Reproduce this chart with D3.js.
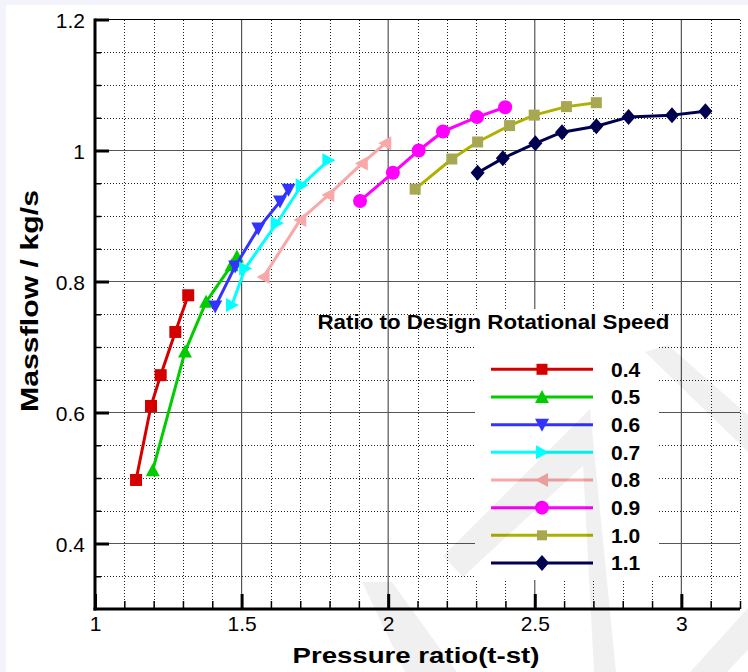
<!DOCTYPE html>
<html>
<head>
<meta charset="utf-8">
<script src="https://cdn.jsdelivr.net/npm/d3@7"></script>
<style>
  body { margin: 0; background: #f3f3fb; }
  svg { display: block; }
  .tick text { font-family: "Liberation Sans", Arial, sans-serif; font-size: 21px; fill: #000; }
</style>
</head>
<body>
<div id="chart"></div>
<script>
// speed lines: pressure ratio (t-st) vs massflow (kg/s)
var speedLabels = ['0.4', '0.5', '0.6', '0.7', '0.8', '0.9', '1.0', '1.1'];

var pr04 = [1.140, 1.191, 1.224, 1.274, 1.318];
var mf04 = [0.497, 0.610, 0.657, 0.723, 0.779];
var pr05 = [1.197, 1.307, 1.379, 1.466, 1.484];
var mf05 = [0.512, 0.693, 0.769, 0.825, 0.838];
var pr06 = [1.410, 1.478, 1.557, 1.631, 1.660];
var mf06 = [0.762, 0.823, 0.881, 0.922, 0.940];
var pr07 = [1.467, 1.512, 1.620, 1.705, 1.796];
var mf07 = [0.764, 0.820, 0.889, 0.947, 0.985];
var pr08 = [1.575, 1.700, 1.796, 1.910, 1.990];
var mf08 = [0.807, 0.894, 0.932, 0.980, 1.011];
var pr09 = [1.904, 2.016, 2.104, 2.187, 2.303, 2.399];
var mf09 = [0.923, 0.966, 1.000, 1.029, 1.051, 1.066];
var pr10 = [2.092, 2.217, 2.305, 2.414, 2.498, 2.608, 2.710];
var mf10 = [0.941, 0.987, 1.013, 1.038, 1.054, 1.067, 1.073];
var pr11 = [2.305, 2.391, 2.502, 2.593, 2.710, 2.820, 2.968, 3.082];
var mf11 = [0.966, 0.988, 1.011, 1.028, 1.037, 1.051, 1.054, 1.060];

var xTicks = [1, 1.5, 2, 2.5, 3];
var yTicks = [0.4, 0.6, 0.8, 1, 1.2];

var W = 748, H = 672;
var m = { top: 19.5, right: 8, bottom: 63, left: 95 };

var svg = d3.select('#chart').append('svg').attr('width', W).attr('height', H);

svg.append('rect').attr('x', 6).attr('y', 5).attr('width', W - 6).attr('height', H - 5).style('fill', '#fff');

var x = d3.scaleLinear().domain([1, 3.2]).range([m.left, W - m.right]);
var y = d3.scaleLinear().domain([0.3, 1.2]).range([H - m.bottom, m.top]);

var series = [
    { pr: pr04, mf: mf04, line: '#d40000', fill: '#d40000', shape: 'square', size: 12 },
    { pr: pr05, mf: mf05, line: '#00cc00', fill: '#00cc00', shape: 'up', size: 7 },
    { pr: pr06, mf: mf06, line: '#3333ff', fill: '#3333ff', shape: 'down', size: 7 },
    { pr: pr07, mf: mf07, line: '#00ffff', fill: '#00ffff', shape: 'right', size: 7 },
    { pr: pr08, mf: mf08, line: '#f8a8a8', fill: '#f8a8a8', shape: 'left', size: 7 },
    { pr: pr09, mf: mf09, line: '#ff00ff', fill: '#ff00ff', shape: 'circle', size: 7 },
    { pr: pr10, mf: mf10, line: '#b0b000', fill: '#a9a852', shape: 'square', size: 11 },
    { pr: pr11, mf: mf11, line: '#000050', fill: '#000050', shape: 'diamond', size: 8 }
];

function markerPath(shape, s) {
    switch (shape) {
        case 'square': var h = s / 2; return 'M' + -h + ',' + -h + 'H' + h + 'V' + h + 'H' + -h + 'Z';
        case 'up': return 'M0,' + -s + 'L' + s + ',' + (s - 1) + 'L' + -s + ',' + (s - 1) + 'Z';
        case 'down': return 'M0,' + s + 'L' + s + ',' + (1 - s) + 'L' + -s + ',' + (1 - s) + 'Z';
        case 'right': return 'M' + s + ',0L' + (1 - s) + ',' + -s + 'L' + (1 - s) + ',' + s + 'Z';
        case 'left': return 'M' + -s + ',0L' + (s - 1) + ',' + -s + 'L' + (s - 1) + ',' + s + 'Z';
        case 'diamond': return 'M0,' + -s + 'L' + (s - 1) + ',0L0,' + s + 'L' + (1 - s) + ',0Z';
        default: return 'M' + s + ',0A' + s + ',' + s + ' 0 1,1 ' + -s + ',0A' + s + ',' + s + ' 0 1,1 ' + s + ',0Z';
    }
}

// grid
var grid = svg.append('g');
var xMinor = d3.range(1.1, 3.21, 0.1).filter(function(v) { return Math.abs(v * 2 - Math.round(v * 2)) > 1e-6; });
var yMinor = d3.range(0.35, 1.2, 0.05).filter(function(v) { return Math.abs(v * 5 - Math.round(v * 5)) > 1e-6; });

grid.selectAll('line.xm').data(xMinor).enter().append('line')
    .attr('x1', function(d) { return Math.round(x(d)) + 0.5; }).attr('x2', function(d) { return Math.round(x(d)) + 0.5; })
    .attr('y1', y(0.3)).attr('y2', y(1.2))
    .style('stroke', '#222').style('stroke-width', 1).style('stroke-dasharray', '1,2');
grid.selectAll('line.ym').data(yMinor).enter().append('line')
    .attr('y1', function(d) { return Math.round(y(d)) + 0.5; }).attr('y2', function(d) { return Math.round(y(d)) + 0.5; })
    .attr('x1', x(1)).attr('x2', x(3.2))
    .style('stroke', '#222').style('stroke-width', 1).style('stroke-dasharray', '1,2');
grid.selectAll('line.xM').data(xTicks.slice(1)).enter().append('line')
    .attr('x1', function(d) { return x(d); }).attr('x2', function(d) { return x(d); })
    .attr('y1', y(0.3)).attr('y2', y(1.2))
    .style('stroke', '#555').style('stroke-width', 1.2);
grid.selectAll('line.yM').data(yTicks).enter().append('line')
    .attr('y1', function(d) { return y(d); }).attr('y2', function(d) { return y(d); })
    .attr('x1', x(1)).attr('x2', x(3.2))
    .style('stroke', function(d) { return d === 1.2 ? '#000' : '#555'; }).style('stroke-width', 1.2);

// legend box hides grid
var lg = { x: 475, y: 309, w: 184, h: 271 };
svg.append('rect').attr('x', lg.x).attr('y', lg.y).attr('width', lg.w).attr('height', lg.h).style('fill', '#fff');

// axes
var yAxisMajor = d3.axisLeft(y).tickValues(yTicks).tickSizeInner(-14).tickSizeOuter(0).tickPadding(10)
    .tickFormat(function(d) { return d === 1 ? '1' : d3.format('.1f')(d); });
var yAxisMinor = d3.axisLeft(y).tickValues(d3.range(0.35, 1.2, 0.05).filter(function(v) { return Math.abs(v * 5 - Math.round(v * 5)) > 1e-6; }))
    .tickSizeInner(-6).tickSizeOuter(0).tickFormat('');
var xAxisMajor = d3.axisBottom(x).tickValues(xTicks).tickSizeInner(-15).tickSizeOuter(0).tickPadding(7)
    .tickFormat(function(d) { return d % 1 === 0 ? String(d) : d3.format('.1f')(d); });
var xAxisMinor = d3.axisBottom(x).tickValues(xMinor).tickSizeInner(-8).tickSizeOuter(0).tickFormat('');

var gy = svg.append('g').attr('transform', 'translate(' + x(1) + ',0)');
gy.call(yAxisMinor).selectAll('line').style('stroke', '#000').style('stroke-width', 1.5);
var gy2 = svg.append('g').attr('transform', 'translate(' + x(1) + ',0)').call(yAxisMajor);
gy2.selectAll('line').style('stroke', '#000').style('stroke-width', 3);
gy.select('.domain').remove(); gy2.select('.domain').remove();
gy2.selectAll('text').attr('dy', '0.36em');

var gx = svg.append('g').attr('transform', 'translate(0,' + y(0.3) + ')').call(xAxisMinor);
gx.selectAll('line').style('stroke', '#000').style('stroke-width', 1.5);
var gx2 = svg.append('g').attr('transform', 'translate(0,' + y(0.3) + ')').call(xAxisMajor);
gx2.selectAll('line').style('stroke', '#000').style('stroke-width', 3);
gx.select('.domain').remove(); gx2.select('.domain').remove();

svg.append('line').attr('x1', x(1)).attr('x2', x(1)).attr('y1', y(1.2) - 1).attr('y2', y(0.3) + 1.5)
    .style('stroke', '#000').style('stroke-width', 3);
svg.append('line').attr('x1', x(1) - 1.5).attr('x2', x(3.2)).attr('y1', y(0.3)).attr('y2', y(0.3))
    .style('stroke', '#000').style('stroke-width', 3);

// curves
var line = d3.line().x(function(d) { return x(d[0]); }).y(function(d) { return y(d[1]); });
series.forEach(function(s) {
    var pts = s.pr.map(function(p, i) { return [p, s.mf[i]]; });
    svg.append('path').datum(pts).attr('d', line)
        .style('fill', 'none').style('stroke', s.line).style('stroke-width', 3).style('stroke-linejoin', 'round');
    svg.selectAll(null).data(pts).enter().append('path')
        .attr('transform', function(d) { return 'translate(' + x(d[0]) + ',' + y(d[1]) + ')'; })
        .attr('d', markerPath(s.shape, s.size))
        .style('fill', s.fill);
});

// legend
svg.append('text').attr('x', 493.5).attr('y', 329).attr('text-anchor', 'middle')
    .attr('textLength', 352).attr('lengthAdjust', 'spacingAndGlyphs')
    .style('font-family', '"Liberation Sans", Arial, sans-serif').style('font-weight', 'bold').style('font-size', '20px')
    .text('Ratio to Design Rotational Speed');

var lgItems = svg.selectAll('g.lg').data(series).enter().append('g')
    .attr('transform', function(d, i) { return 'translate(0,' + (369.3 + i * 27.67) + ')'; });
lgItems.append('line').attr('x1', 491).attr('x2', 593).attr('y1', 0).attr('y2', 0)
    .style('stroke', function(d) { return d.line; }).style('stroke-width', 3);
lgItems.append('path').attr('transform', 'translate(542,0)')
    .attr('d', function(d) { return markerPath(d.shape, d.shape === 'square' ? d.size - 1 : d.size); })
    .style('fill', function(d) { return d.fill; });
lgItems.append('text').attr('x', 611).attr('y', 7.5)
    .style('font-family', '"Liberation Sans", Arial, sans-serif').style('font-weight', 'bold').style('font-size', '21px')
    .text(function(d, i) { return speedLabels[i]; });

// axis titles
svg.append('text').attr('x', 416).attr('y', 663).attr('text-anchor', 'middle')
    .attr('textLength', 247).attr('lengthAdjust', 'spacingAndGlyphs')
    .style('font-family', '"Liberation Sans", Arial, sans-serif').style('font-weight', 'bold').style('font-size', '22px')
    .text('Pressure ratio(t-st)');
svg.append('text').attr('transform', 'translate(38,301) rotate(-90)').attr('text-anchor', 'middle')
    .attr('textLength', 222).attr('lengthAdjust', 'spacingAndGlyphs')
    .style('font-family', '"Liberation Sans", Arial, sans-serif').style('font-weight', 'bold').style('font-size', '23px')
    .text('Massflow / kg/s');

// faint watermark in the lower right
var wm = [
    [[443, 556], [590, 409], [616, 672], [594, 672], [583, 466], [463, 577]],
    [[645, 352], [668, 345], [748, 415], [748, 452]],
    [[362, 582], [392, 582], [457, 672], [405, 672]],
    [[690, 672], [748, 608], [748, 650], [727, 672]]
];
svg.selectAll('path.wm').data(wm).enter().append('path')
    .attr('d', function(d) { return 'M' + d.join('L') + 'Z'; })
    .style('fill', '#000').style('opacity', 0.06);
</script>
</body>
</html>
